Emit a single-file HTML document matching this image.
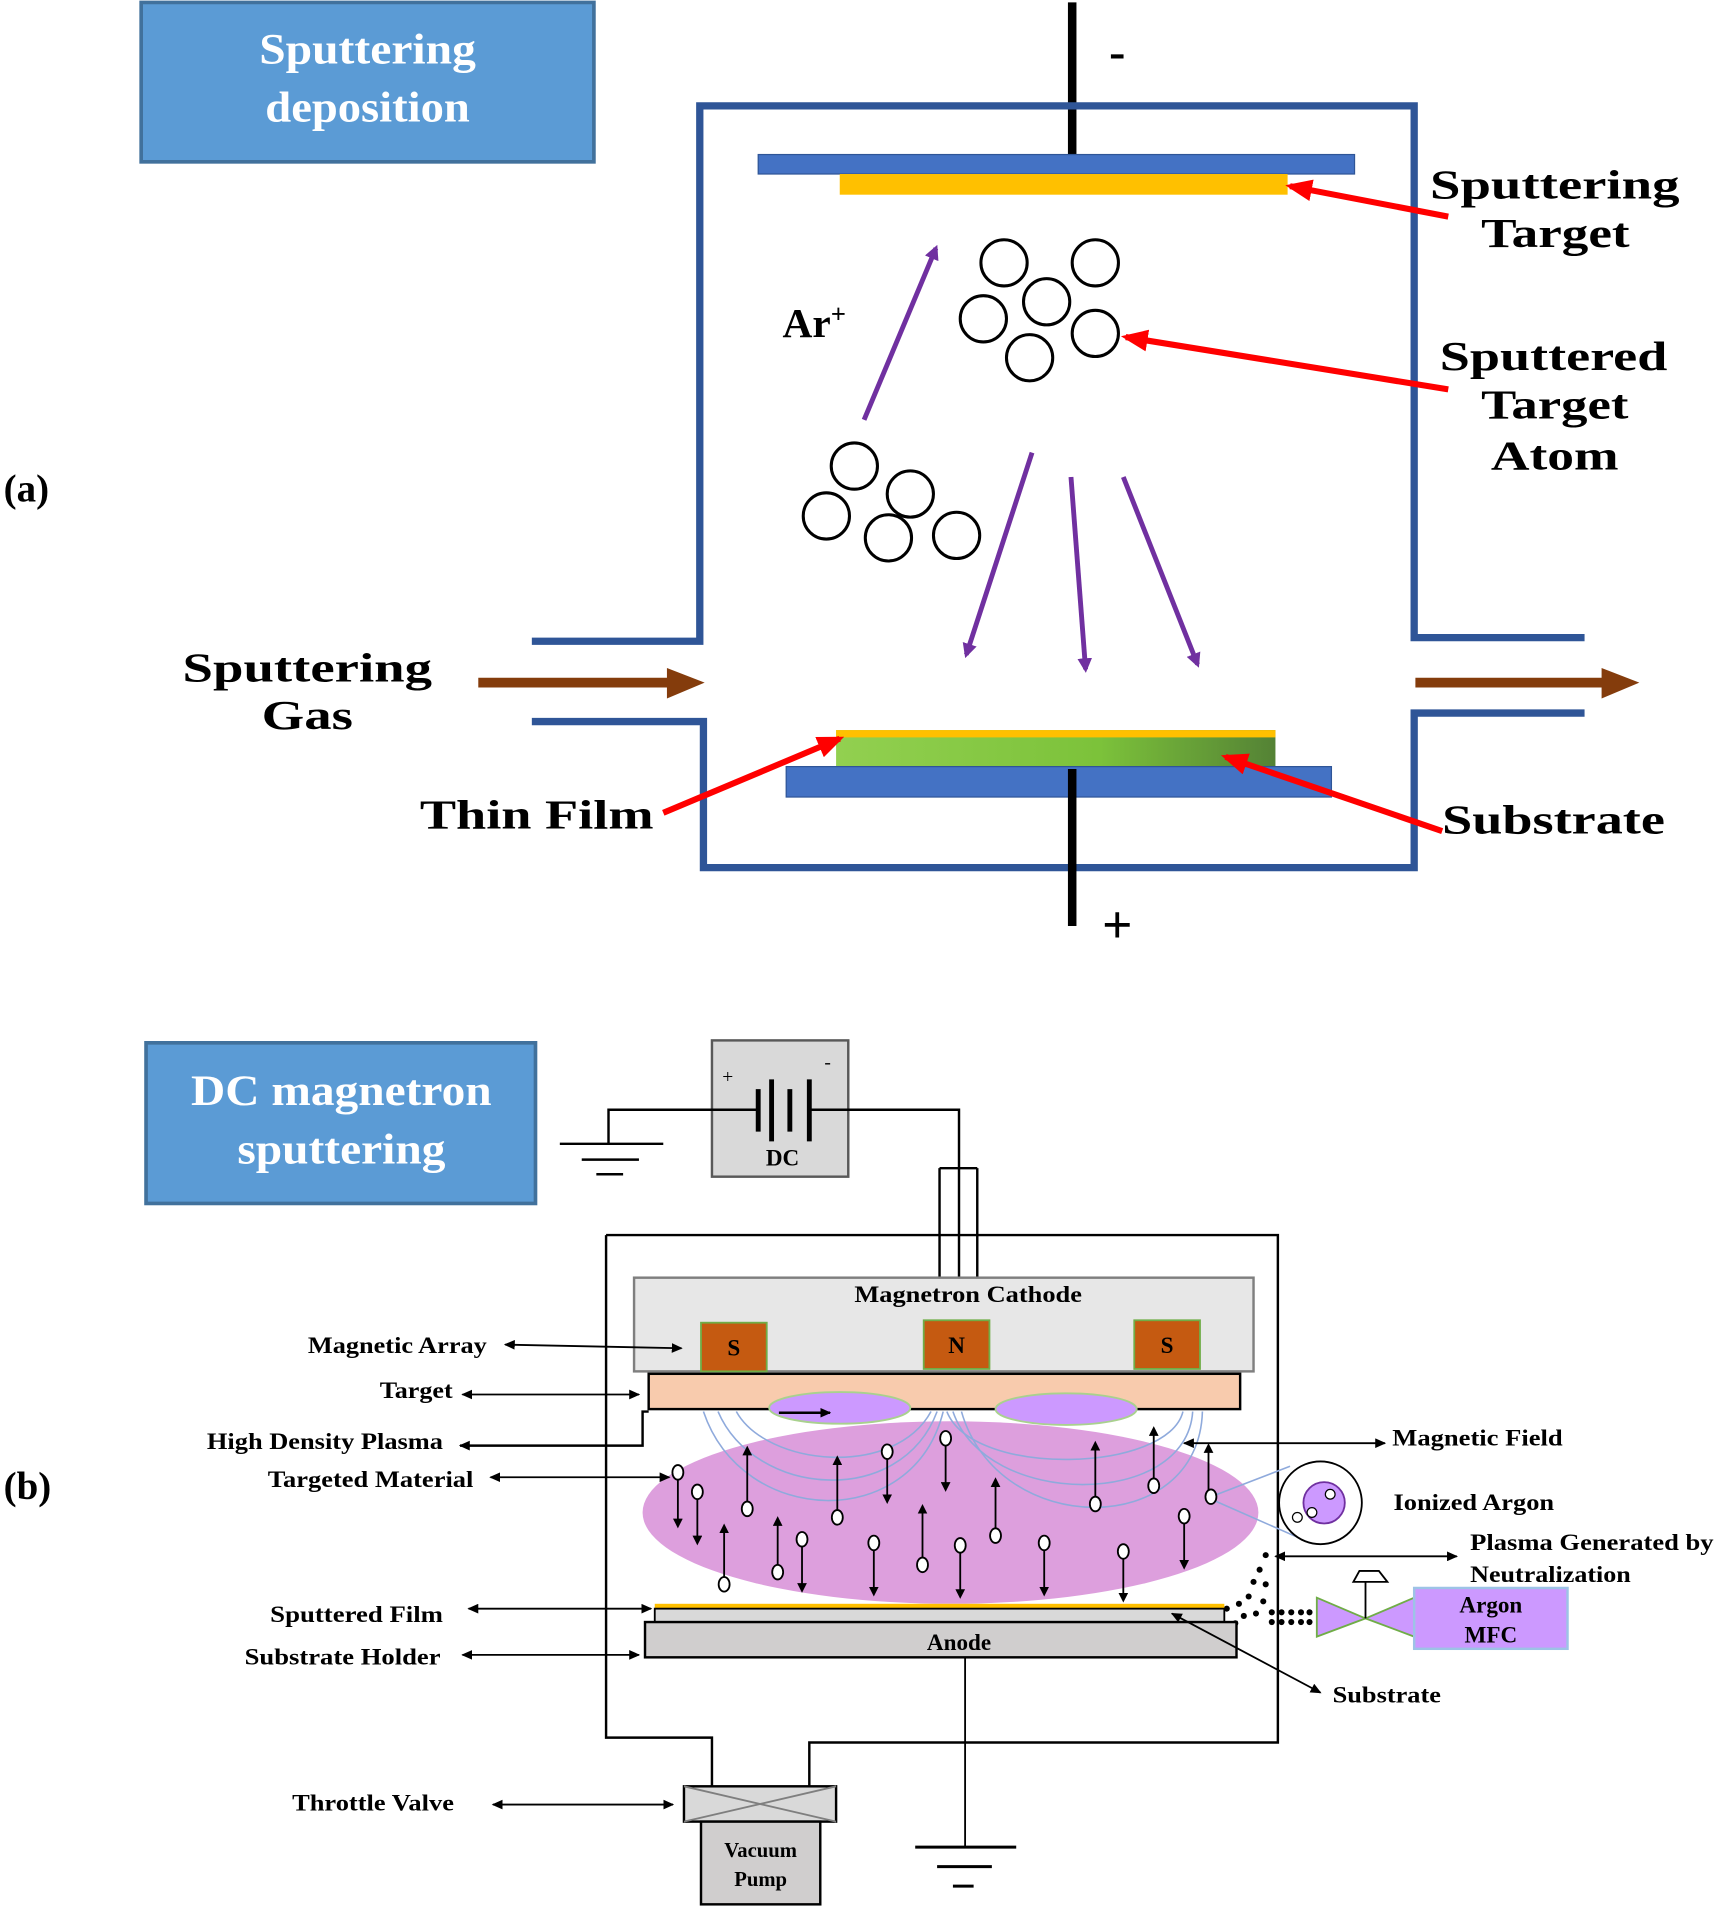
<!DOCTYPE html>
<html><head><meta charset="utf-8"><style>html,body{margin:0;padding:0;background:#fff;}svg{display:block}</style></head>
<body>
<svg width="1716" height="1908" viewBox="0 0 1410 1568" preserveAspectRatio="none" xmlns="http://www.w3.org/2000/svg" font-family="'Liberation Serif', serif" font-weight="bold">
<defs>
<marker id="ap" markerWidth="12" markerHeight="12" refX="9" refY="6" orient="auto" markerUnits="userSpaceOnUse"><path d="M0,0 L12,6 L0,12 z" fill="#7030a0"/></marker>
<marker id="ar" markerWidth="22" markerHeight="18" refX="18" refY="9" orient="auto" markerUnits="userSpaceOnUse"><path d="M0,0 L22,9 L0,18 z" fill="#ff0000"/></marker>
<marker id="ab" markerWidth="9" markerHeight="8" refX="8" refY="4" orient="auto" markerUnits="userSpaceOnUse"><path d="M0,0 L9,4 L0,8 z" fill="#000"/></marker>
<marker id="abs" markerWidth="9" markerHeight="8" refX="1" refY="4" orient="auto" markerUnits="userSpaceOnUse"><path d="M9,0 L0,4 L9,8 z" fill="#000"/></marker>
<marker id="ak" markerWidth="8" markerHeight="8" refX="4" refY="4" orient="auto" markerUnits="userSpaceOnUse"><path d="M0,0 L8,4 L0,8 z" fill="#000"/></marker>
<linearGradient id="gr" x1="0" x2="1"><stop offset="0" stop-color="#92d050"/><stop offset="0.6" stop-color="#7cc23a"/><stop offset="1" stop-color="#548235"/></linearGradient>
</defs>

<!-- (a) -->
<rect x="116" y="2" width="372" height="131" fill="#5b9bd5" stroke="#41719c" stroke-width="3"/>
<text x="213" y="52" font-size="36" fill="#fff" textLength="178" lengthAdjust="spacingAndGlyphs">Sputtering</text>
<text x="218" y="100" font-size="36" fill="#fff" textLength="168" lengthAdjust="spacingAndGlyphs">deposition</text>
<text x="3" y="412" font-size="32" fill="#000">(a)</text>

<line x1="881" y1="2" x2="881" y2="128" stroke="#000" stroke-width="7"/>
<text x="918" y="56" font-size="40" text-anchor="middle">-</text>
<path d="M437,527 H575 V87 H1162 V524 H1302" fill="none" stroke="#2f5597" stroke-width="6"/>
<path d="M437,593 H578 V713 H1162 V586 H1302" fill="none" stroke="#2f5597" stroke-width="6"/>
<rect x="623" y="127" width="490" height="16" fill="#4472c4" stroke="#2f5597"/>
<rect x="690" y="143" width="368" height="17" fill="#ffc000"/>
<g fill="none" stroke="#000" stroke-width="2.5">
<circle cx="825" cy="216" r="19"/><circle cx="900" cy="216" r="19"/><circle cx="860" cy="248" r="19"/><circle cx="808" cy="262" r="19"/><circle cx="900" cy="274" r="19"/><circle cx="846" cy="294" r="19"/>
<circle cx="702" cy="383" r="19"/><circle cx="748" cy="406" r="19"/><circle cx="679" cy="424" r="19"/><circle cx="730" cy="442" r="19"/><circle cx="786" cy="440" r="19"/>
</g>
<g stroke="#7030a0" stroke-width="4" marker-end="url(#ap)">
<line x1="710" y1="345" x2="769" y2="204"/>
<line x1="848" y1="372" x2="794" y2="538"/>
<line x1="880" y1="392" x2="892" y2="550"/>
<line x1="923" y1="392" x2="984" y2="546"/>
</g>
<text x="643" y="277" font-size="34">Ar<tspan font-size="22" dy="-12">+</tspan></text>
<g font-size="34">
<text x="1175" y="163" textLength="205" lengthAdjust="spacingAndGlyphs">Sputtering</text><text x="1217" y="203" textLength="122" lengthAdjust="spacingAndGlyphs">Target</text>
<text x="1183" y="304" textLength="187" lengthAdjust="spacingAndGlyphs">Sputtered</text><text x="1217" y="344" textLength="121" lengthAdjust="spacingAndGlyphs">Target</text><text x="1225" y="386" textLength="105" lengthAdjust="spacingAndGlyphs">Atom</text>
<text x="150" y="560" textLength="205" lengthAdjust="spacingAndGlyphs">Sputtering</text><text x="215" y="599" textLength="75" lengthAdjust="spacingAndGlyphs">Gas</text>
<text x="345" y="681" textLength="192" lengthAdjust="spacingAndGlyphs">Thin Film</text>
<text x="1185" y="685" textLength="183" lengthAdjust="spacingAndGlyphs">Substrate</text>
</g>
<g stroke="#843c0c" stroke-width="8">
<line x1="393" y1="561" x2="550" y2="561"/><line x1="1163" y1="561" x2="1318" y2="561"/>
</g>
<path d="M548,549 L579,561 L548,574 z" fill="#843c0c"/>
<path d="M1316,549 L1347,561 L1316,574 z" fill="#843c0c"/>
<rect x="687" y="600" width="361" height="30" fill="url(#gr)"/>
<rect x="687" y="600" width="361" height="6" fill="#ffc000"/>
<rect x="646" y="630" width="448" height="25" fill="#4472c4" stroke="#2f5597"/>
<line x1="881" y1="632" x2="881" y2="761" stroke="#000" stroke-width="7"/>
<text x="918" y="775" font-size="44" text-anchor="middle">+</text>
<g stroke="#ff0000" stroke-width="5" marker-end="url(#ar)">
<line x1="1190" y1="178" x2="1060" y2="153"/>
<line x1="1190" y1="320" x2="925" y2="277"/>
<line x1="545" y1="668" x2="690" y2="607"/>
<line x1="1185" y1="683" x2="1007" y2="622"/>
</g>

<!-- (b) -->
<rect x="120" y="857" width="320" height="132" fill="#5b9bd5" stroke="#41719c" stroke-width="3"/>
<text x="157" y="908" font-size="36" fill="#fff" textLength="247" lengthAdjust="spacingAndGlyphs">DC magnetron</text>
<text x="195" y="956" font-size="36" fill="#fff" textLength="171" lengthAdjust="spacingAndGlyphs">sputtering</text>
<text x="3" y="1232" font-size="32">(b)</text>

<rect x="585" y="855" width="112" height="112" fill="#d9d9d9" stroke="#595959" stroke-width="2"/>
<g stroke="#000" stroke-width="2" fill="none">
<line x1="460" y1="940" x2="545" y2="940"/><line x1="478" y1="953" x2="525" y2="953"/><line x1="490" y1="965" x2="512" y2="965"/>
<path d="M500,940 V912 H622"/><path d="M666,912 H788 V960"/>
<line x1="772" y1="960" x2="772" y2="1050"/><line x1="803" y1="960" x2="803" y2="1050"/><line x1="772" y1="960" x2="803" y2="960"/>
<line x1="788" y1="960" x2="788" y2="1050"/>
</g>
<g stroke="#000" stroke-width="4">
<line x1="623" y1="895" x2="623" y2="930"/><line x1="634" y1="887" x2="634" y2="938"/><line x1="649" y1="895" x2="649" y2="930"/><line x1="665" y1="887" x2="665" y2="938"/>
</g>
<text x="598" y="890" font-size="16" text-anchor="middle" font-weight="normal">+</text>
<text x="680" y="878" font-size="16" text-anchor="middle" font-weight="normal">-</text>
<text x="643" y="958" font-size="19" text-anchor="middle">DC</text>

<path d="M498,1015 H1050 V1432 H665 V1468 M498,1015 V1428 H585 V1468" fill="none" stroke="#000" stroke-width="2"/>
<rect x="521" y="1050" width="509" height="77" fill="#e7e7e7" stroke="#7f7f7f" stroke-width="2"/>
<text x="702" y="1070" font-size="19" textLength="187" lengthAdjust="spacingAndGlyphs">Magnetron Cathode</text>
<g fill="#c55a11" stroke="#70ad47" stroke-width="1.5">
<rect x="576" y="1087" width="54" height="40"/><rect x="759" y="1085" width="54" height="40"/><rect x="932" y="1085" width="54" height="40"/>
</g>
<g font-size="19" text-anchor="middle"><text x="603" y="1114">S</text><text x="786" y="1112">N</text><text x="959" y="1112">S</text></g>
<rect x="533" y="1129" width="486" height="29" fill="#f8cbad" stroke="#000" stroke-width="2"/>
<ellipse cx="781" cy="1243" rx="253" ry="75" fill="#dd9fdd"/>
<ellipse cx="690" cy="1157" rx="58" ry="13" fill="#cc99ff" stroke="#a9d18e" stroke-width="1.5"/>
<ellipse cx="876" cy="1158" rx="58" ry="13" fill="#cc99ff" stroke="#a9d18e" stroke-width="1.5"/>
<g fill="none" stroke="#8faadc" stroke-width="1.3">
<path d="M578,1160 C610,1255 750,1260 775,1160"/>
<path d="M590,1160 C620,1230 740,1240 770,1160"/>
<path d="M605,1160 C630,1205 735,1215 765,1160"/>
<path d="M778,1160 C800,1215 960,1210 972,1160"/>
<path d="M783,1160 C810,1240 975,1240 980,1160"/>
<path d="M790,1160 C820,1265 985,1265 988,1160"/>
<path d="M995,1230 L1060,1205 M995,1232 L1070,1265"/>
</g>
<path d="M533,1160 H528 V1188 H378" fill="none" stroke="#000" stroke-width="2"/>
<line x1="640" y1="1161" x2="682" y2="1161" stroke="#000" stroke-width="2" marker-end="url(#ab)"/>
<g stroke="#000" stroke-width="1.5" fill="#fff">
<line x1="557" y1="1210" x2="557" y2="1252" marker-end="url(#ak)"/><ellipse cx="557" cy="1210" rx="4.5" ry="6"/>
<line x1="573" y1="1226" x2="573" y2="1266" marker-end="url(#ak)"/><ellipse cx="573" cy="1226" rx="4.5" ry="6"/>
<line x1="614" y1="1240" x2="614" y2="1192" marker-end="url(#ak)"/><ellipse cx="614" cy="1240" rx="4.5" ry="6"/>
<line x1="595" y1="1302" x2="595" y2="1256" marker-end="url(#ak)"/><ellipse cx="595" cy="1302" rx="4.5" ry="6"/>
<line x1="639" y1="1292" x2="639" y2="1250" marker-end="url(#ak)"/><ellipse cx="639" cy="1292" rx="4.5" ry="6"/>
<line x1="659" y1="1265" x2="659" y2="1305" marker-end="url(#ak)"/><ellipse cx="659" cy="1265" rx="4.5" ry="6"/>
<line x1="688" y1="1247" x2="688" y2="1200" marker-end="url(#ak)"/><ellipse cx="688" cy="1247" rx="4.5" ry="6"/>
<line x1="718" y1="1268" x2="718" y2="1308" marker-end="url(#ak)"/><ellipse cx="718" cy="1268" rx="4.5" ry="6"/>
<line x1="729" y1="1193" x2="729" y2="1232" marker-end="url(#ak)"/><ellipse cx="729" cy="1193" rx="4.5" ry="6"/>
<line x1="758" y1="1286" x2="758" y2="1240" marker-end="url(#ak)"/><ellipse cx="758" cy="1286" rx="4.5" ry="6"/>
<line x1="777" y1="1182" x2="777" y2="1222" marker-end="url(#ak)"/><ellipse cx="777" cy="1182" rx="4.5" ry="6"/>
<line x1="789" y1="1270" x2="789" y2="1310" marker-end="url(#ak)"/><ellipse cx="789" cy="1270" rx="4.5" ry="6"/>
<line x1="818" y1="1262" x2="818" y2="1218" marker-end="url(#ak)"/><ellipse cx="818" cy="1262" rx="4.5" ry="6"/>
<line x1="858" y1="1268" x2="858" y2="1308" marker-end="url(#ak)"/><ellipse cx="858" cy="1268" rx="4.5" ry="6"/>
<line x1="900" y1="1236" x2="900" y2="1188" marker-end="url(#ak)"/><ellipse cx="900" cy="1236" rx="4.5" ry="6"/>
<line x1="923" y1="1275" x2="923" y2="1313" marker-end="url(#ak)"/><ellipse cx="923" cy="1275" rx="4.5" ry="6"/>
<line x1="948" y1="1221" x2="948" y2="1176" marker-end="url(#ak)"/><ellipse cx="948" cy="1221" rx="4.5" ry="6"/>
<line x1="973" y1="1246" x2="973" y2="1286" marker-end="url(#ak)"/><ellipse cx="973" cy="1246" rx="4.5" ry="6"/>
<line x1="993" y1="1230" x2="993" y2="1190" marker-end="url(#ak)"/><ellipse cx="995" cy="1230" rx="4.5" ry="6"/>
</g>
<circle cx="1085" cy="1235" r="34" fill="#fff" stroke="#000" stroke-width="1.5"/>
<circle cx="1088" cy="1235" r="17" fill="#cc99ff" stroke="#7030a0" stroke-width="1.5"/>
<circle cx="1093" cy="1228" r="4" fill="#fff" stroke="#000"/><circle cx="1078" cy="1243" r="4" fill="#fff" stroke="#000"/><circle cx="1066" cy="1247" r="4" fill="#fff" stroke="#000"/>
<g fill="#000">
<circle cx="1040" cy="1278" r="2.5"/><circle cx="1035" cy="1290" r="2.5"/><circle cx="1040" cy="1302" r="2.5"/><circle cx="1030" cy="1300" r="2.5"/>
<circle cx="1026" cy="1312" r="2.5"/><circle cx="1038" cy="1316" r="2.5"/><circle cx="1018" cy="1318" r="2.5"/><circle cx="1032" cy="1326" r="2.5"/>
<circle cx="1008" cy="1322" r="2.5"/><circle cx="1022" cy="1328" r="2.5"/><circle cx="1015" cy="1334" r="2.5"/>
<circle cx="1045" cy="1325" r="2.5"/><circle cx="1053" cy="1325" r="2.5"/><circle cx="1061" cy="1325" r="2.5"/><circle cx="1069" cy="1325" r="2.5"/><circle cx="1076" cy="1325" r="2.5"/>
<circle cx="1045" cy="1333" r="2.5"/><circle cx="1053" cy="1333" r="2.5"/><circle cx="1061" cy="1333" r="2.5"/><circle cx="1069" cy="1333" r="2.5"/><circle cx="1076" cy="1333" r="2.5"/>
</g>
<path d="M1082,1313 L1122,1330 L1082,1345 z M1162,1313 L1122,1330 L1162,1345 z" fill="#cc99ff" stroke="#70ad47" stroke-width="1.5"/>
<line x1="1122" y1="1330" x2="1122" y2="1300" stroke="#000" stroke-width="1.5"/>
<path d="M1112,1300 L1117,1291 H1133 L1140,1300 z" fill="#fff" stroke="#000" stroke-width="1.5"/>
<rect x="1162" y="1305" width="126" height="50" fill="#cc99ff" stroke="#9dc3e6" stroke-width="2"/>
<text x="1225" y="1325" font-size="19" text-anchor="middle">Argon</text>
<text x="1225" y="1350" font-size="19" text-anchor="middle">MFC</text>
<rect x="538" y="1318" width="468" height="4" fill="#ffc000"/>
<rect x="538" y="1322" width="468" height="11" fill="#d9d9d9" stroke="#000" stroke-width="1.5"/>
<rect x="530" y="1333" width="486" height="29" fill="#d0cece" stroke="#000" stroke-width="2"/>
<text x="788" y="1356" font-size="19" text-anchor="middle">Anode</text>
<line x1="793" y1="1362" x2="793" y2="1518" stroke="#000" stroke-width="1.5"/>
<g stroke="#000" stroke-width="2.5">
<line x1="752" y1="1518" x2="835" y2="1518"/><line x1="770" y1="1534" x2="815" y2="1534"/><line x1="783" y1="1550" x2="800" y2="1550"/>
</g>
<rect x="562" y="1468" width="125" height="29" fill="#d9d9d9" stroke="#000" stroke-width="2"/>
<path d="M562,1468 L687,1497 M687,1468 L562,1497" stroke="#7f7f7f" stroke-width="1.5"/>
<rect x="576" y="1497" width="98" height="68" fill="#d0cece" stroke="#000" stroke-width="2"/>
<text x="625" y="1526" font-size="17" text-anchor="middle">Vacuum</text>
<text x="625" y="1550" font-size="17" text-anchor="middle">Pump</text>

<g stroke="#000" stroke-width="1.5" marker-end="url(#ab)" marker-start="url(#abs)">
<line x1="415" y1="1105" x2="560" y2="1108"/>
<line x1="380" y1="1146" x2="525" y2="1146"/>
<line x1="403" y1="1214" x2="550" y2="1214"/>
<line x1="385" y1="1322" x2="535" y2="1322"/>
<line x1="380" y1="1360" x2="525" y2="1360"/>
<line x1="405" y1="1483" x2="553" y2="1483"/>
<line x1="1048" y1="1279" x2="1197" y2="1279"/>
<line x1="973" y1="1186" x2="1138" y2="1186"/>
</g>
<line x1="378" y1="1188" x2="380" y2="1188" stroke="#000" marker-start="url(#abs)"/>
<line x1="1085" y1="1391" x2="963" y2="1326" stroke="#000" stroke-width="1.5" marker-end="url(#ab)" marker-start="url(#abs)"/>
<g font-size="19" lengthAdjust="spacingAndGlyphs">
<text x="253" y="1112" textLength="147" lengthAdjust="spacingAndGlyphs">Magnetic Array</text>
<text x="312" y="1149" textLength="60" lengthAdjust="spacingAndGlyphs">Target</text>
<text x="170" y="1191" textLength="194" lengthAdjust="spacingAndGlyphs">High Density Plasma</text>
<text x="220" y="1222" textLength="169" lengthAdjust="spacingAndGlyphs">Targeted Material</text>
<text x="222" y="1333" textLength="142" lengthAdjust="spacingAndGlyphs">Sputtered Film</text>
<text x="201" y="1368" textLength="161" lengthAdjust="spacingAndGlyphs">Substrate Holder</text>
<text x="240" y="1488" textLength="133" lengthAdjust="spacingAndGlyphs">Throttle Valve</text>
<text x="1144" y="1188" textLength="140" lengthAdjust="spacingAndGlyphs">Magnetic Field</text>
<text x="1145" y="1241" textLength="132" lengthAdjust="spacingAndGlyphs">Ionized Argon</text>
<text x="1208" y="1274" textLength="200" lengthAdjust="spacingAndGlyphs">Plasma Generated by</text>
<text x="1208" y="1300" textLength="132" lengthAdjust="spacingAndGlyphs">Neutralization</text>
<text x="1095" y="1399" textLength="89" lengthAdjust="spacingAndGlyphs">Substrate</text>
</g>
</svg>
</body></html>
